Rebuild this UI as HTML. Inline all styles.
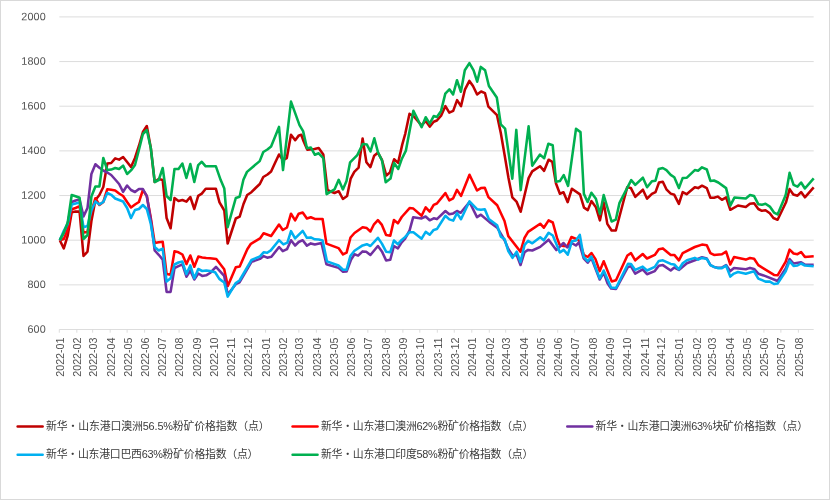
<!DOCTYPE html>
<html lang="zh"><head><meta charset="utf-8"><title>chart</title>
<style>
html,body{margin:0;padding:0;background:#fff;}
body{width:830px;height:500px;overflow:hidden;position:relative;font-family:"Liberation Sans",sans-serif;}
svg{position:absolute;left:0;top:0;display:block;}
.yl{font-family:"Liberation Sans",sans-serif;font-size:10.8px;fill:#525252;text-anchor:end;}
.xl{font-family:"Liberation Sans",sans-serif;font-size:10.8px;fill:#525252;text-anchor:end;}
.lg{font-family:"Liberation Sans","Noto Sans CJK SC",sans-serif;font-size:10.9px;fill:#3a3a3a;text-anchor:start;}
.ln{fill:none;stroke-width:2.55;stroke-linejoin:round;stroke-linecap:butt;}
</style></head><body>
<svg style="will-change:transform" width="830" height="500" viewBox="0 0 830 500">
<rect x="0" y="0" width="830" height="500" fill="#fff"/>
<rect x="0.5" y="0.5" width="829" height="499" fill="none" stroke="#D9D9D9" stroke-width="1"/>
<path d="M59.3 16.9H813.7M59.3 61.56H813.7M59.3 106.21H813.7M59.3 150.87H813.7M59.3 195.53H813.7M59.3 240.19H813.7M59.3 284.84H813.7M59.3 329.5H813.7" stroke="#D9D9D9" stroke-width="0.9" fill="none"/>
<path d="M59.3 329.5v3.2M76.82 329.5v3.2M92.64 329.5v3.2M110.16 329.5v3.2M127.11 329.5v3.2M144.62 329.5v3.2M161.58 329.5v3.2M179.09 329.5v3.2M196.61 329.5v3.2M213.56 329.5v3.2M231.08 329.5v3.2M248.03 329.5v3.2M265.55 329.5v3.2M283.06 329.5v3.2M298.89 329.5v3.2M316.4 329.5v3.2M333.35 329.5v3.2M350.87 329.5v3.2M367.82 329.5v3.2M385.34 329.5v3.2M402.86 329.5v3.2M419.81 329.5v3.2M437.33 329.5v3.2M454.28 329.5v3.2M471.79 329.5v3.2M489.31 329.5v3.2M505.7 329.5v3.2M523.22 329.5v3.2M540.17 329.5v3.2M557.68 329.5v3.2M574.64 329.5v3.2M592.15 329.5v3.2M609.67 329.5v3.2M626.62 329.5v3.2M644.14 329.5v3.2M661.09 329.5v3.2M678.61 329.5v3.2M696.12 329.5v3.2M711.95 329.5v3.2M729.46 329.5v3.2M746.41 329.5v3.2M763.93 329.5v3.2M780.88 329.5v3.2M798.4 329.5v3.2" stroke="#D9D9D9" stroke-width="0.9" fill="none"/>
<text class="yl" transform="translate(45.7,20.15) rotate(0.03)" textLength="24.4" lengthAdjust="spacing">2000</text>
<text class="yl" transform="translate(45.7,64.81) rotate(0.03)" textLength="24.4" lengthAdjust="spacing">1800</text>
<text class="yl" transform="translate(45.7,109.46) rotate(0.03)" textLength="24.4" lengthAdjust="spacing">1600</text>
<text class="yl" transform="translate(45.7,154.12) rotate(0.03)" textLength="24.4" lengthAdjust="spacing">1400</text>
<text class="yl" transform="translate(45.7,198.78) rotate(0.03)" textLength="24.4" lengthAdjust="spacing">1200</text>
<text class="yl" transform="translate(45.7,243.44) rotate(0.03)" textLength="24.4" lengthAdjust="spacing">1000</text>
<text class="yl" transform="translate(45.7,288.09) rotate(0.03)" textLength="18.3" lengthAdjust="spacing">800</text>
<text class="yl" transform="translate(45.7,332.75) rotate(0.03)" textLength="18.3" lengthAdjust="spacing">600</text>
<text class="xl" transform="translate(63.7,337.5) rotate(-90)" textLength="39.2" lengthAdjust="spacing">2022-01</text>
<text class="xl" transform="translate(81.22,337.5) rotate(-90)" textLength="39.2" lengthAdjust="spacing">2022-02</text>
<text class="xl" transform="translate(97.04,337.5) rotate(-90)" textLength="39.2" lengthAdjust="spacing">2022-03</text>
<text class="xl" transform="translate(114.56,337.5) rotate(-90)" textLength="39.2" lengthAdjust="spacing">2022-04</text>
<text class="xl" transform="translate(131.51,337.5) rotate(-90)" textLength="39.2" lengthAdjust="spacing">2022-05</text>
<text class="xl" transform="translate(149.02,337.5) rotate(-90)" textLength="39.2" lengthAdjust="spacing">2022-06</text>
<text class="xl" transform="translate(165.98,337.5) rotate(-90)" textLength="39.2" lengthAdjust="spacing">2022-07</text>
<text class="xl" transform="translate(183.49,337.5) rotate(-90)" textLength="39.2" lengthAdjust="spacing">2022-08</text>
<text class="xl" transform="translate(201.01,337.5) rotate(-90)" textLength="39.2" lengthAdjust="spacing">2022-09</text>
<text class="xl" transform="translate(217.96,337.5) rotate(-90)" textLength="39.2" lengthAdjust="spacing">2022-10</text>
<text class="xl" transform="translate(235.48,337.5) rotate(-90)" textLength="39.2" lengthAdjust="spacing">2022-11</text>
<text class="xl" transform="translate(252.43,337.5) rotate(-90)" textLength="39.2" lengthAdjust="spacing">2022-12</text>
<text class="xl" transform="translate(269.95,337.5) rotate(-90)" textLength="39.2" lengthAdjust="spacing">2023-01</text>
<text class="xl" transform="translate(287.46,337.5) rotate(-90)" textLength="39.2" lengthAdjust="spacing">2023-02</text>
<text class="xl" transform="translate(303.29,337.5) rotate(-90)" textLength="39.2" lengthAdjust="spacing">2023-03</text>
<text class="xl" transform="translate(320.8,337.5) rotate(-90)" textLength="39.2" lengthAdjust="spacing">2023-04</text>
<text class="xl" transform="translate(337.75,337.5) rotate(-90)" textLength="39.2" lengthAdjust="spacing">2023-05</text>
<text class="xl" transform="translate(355.27,337.5) rotate(-90)" textLength="39.2" lengthAdjust="spacing">2023-06</text>
<text class="xl" transform="translate(372.22,337.5) rotate(-90)" textLength="39.2" lengthAdjust="spacing">2023-07</text>
<text class="xl" transform="translate(389.74,337.5) rotate(-90)" textLength="39.2" lengthAdjust="spacing">2023-08</text>
<text class="xl" transform="translate(407.26,337.5) rotate(-90)" textLength="39.2" lengthAdjust="spacing">2023-09</text>
<text class="xl" transform="translate(424.21,337.5) rotate(-90)" textLength="39.2" lengthAdjust="spacing">2023-10</text>
<text class="xl" transform="translate(441.73,337.5) rotate(-90)" textLength="39.2" lengthAdjust="spacing">2023-11</text>
<text class="xl" transform="translate(458.68,337.5) rotate(-90)" textLength="39.2" lengthAdjust="spacing">2023-12</text>
<text class="xl" transform="translate(476.19,337.5) rotate(-90)" textLength="39.2" lengthAdjust="spacing">2024-01</text>
<text class="xl" transform="translate(493.71,337.5) rotate(-90)" textLength="39.2" lengthAdjust="spacing">2024-02</text>
<text class="xl" transform="translate(510.1,337.5) rotate(-90)" textLength="39.2" lengthAdjust="spacing">2024-03</text>
<text class="xl" transform="translate(527.62,337.5) rotate(-90)" textLength="39.2" lengthAdjust="spacing">2024-04</text>
<text class="xl" transform="translate(544.57,337.5) rotate(-90)" textLength="39.2" lengthAdjust="spacing">2024-05</text>
<text class="xl" transform="translate(562.08,337.5) rotate(-90)" textLength="39.2" lengthAdjust="spacing">2024-06</text>
<text class="xl" transform="translate(579.04,337.5) rotate(-90)" textLength="39.2" lengthAdjust="spacing">2024-07</text>
<text class="xl" transform="translate(596.55,337.5) rotate(-90)" textLength="39.2" lengthAdjust="spacing">2024-08</text>
<text class="xl" transform="translate(614.07,337.5) rotate(-90)" textLength="39.2" lengthAdjust="spacing">2024-09</text>
<text class="xl" transform="translate(631.02,337.5) rotate(-90)" textLength="39.2" lengthAdjust="spacing">2024-10</text>
<text class="xl" transform="translate(648.54,337.5) rotate(-90)" textLength="39.2" lengthAdjust="spacing">2024-11</text>
<text class="xl" transform="translate(665.49,337.5) rotate(-90)" textLength="39.2" lengthAdjust="spacing">2024-12</text>
<text class="xl" transform="translate(683.01,337.5) rotate(-90)" textLength="39.2" lengthAdjust="spacing">2025-01</text>
<text class="xl" transform="translate(700.52,337.5) rotate(-90)" textLength="39.2" lengthAdjust="spacing">2025-02</text>
<text class="xl" transform="translate(716.35,337.5) rotate(-90)" textLength="39.2" lengthAdjust="spacing">2025-03</text>
<text class="xl" transform="translate(733.86,337.5) rotate(-90)" textLength="39.2" lengthAdjust="spacing">2025-04</text>
<text class="xl" transform="translate(750.81,337.5) rotate(-90)" textLength="39.2" lengthAdjust="spacing">2025-05</text>
<text class="xl" transform="translate(768.33,337.5) rotate(-90)" textLength="39.2" lengthAdjust="spacing">2025-06</text>
<text class="xl" transform="translate(785.28,337.5) rotate(-90)" textLength="39.2" lengthAdjust="spacing">2025-07</text>
<text class="xl" transform="translate(802.8,337.5) rotate(-90)" textLength="39.2" lengthAdjust="spacing">2025-08</text>
<polyline class="ln" stroke="#C00000" points="59.8,240.2 63.8,248.4 67.7,235.6 71.7,212.2 75.6,211.6 79.6,211.6 83.5,256 87.5,251.6 91.4,221 95.4,200 99.4,195 103.3,187 107.3,163.6 111.2,163 115.2,158.4 119.1,159.6 123.1,157 127.1,162 131,167 135,158 138.9,146 142.9,132 146.8,126 150.8,148 154.7,182 158.7,179 162.7,180 166.6,218 170.6,228.3 174.5,198 178.5,201 182.4,200 186.4,201.6 190.3,197 194.3,209 198.2,195.8 201.8,193.6 205.7,188.8 215.9,188.8 219.5,202.4 224.3,210.5 227.65,243.5 235.8,218.5 239.7,216.7 243.5,204 247.2,195 251.4,192.2 255.6,188 259.8,184 263.3,177 267.5,174.5 271.1,171.5 275,163 279,154.5 283,160 286.8,158 291,134.8 295.2,140.2 298.9,135.4 301.3,134.8 303.5,141 307.3,149.7 314.5,149.1 318.7,148.1 323.3,154.5 327.5,190 331.4,191.8 334.5,193 338.7,191.2 342.9,199 347.1,196 350.7,178.6 354.3,171.9 358.6,167.7 362.6,138.5 366.4,162.3 370.4,167.1 374.2,155.7 377.8,152.7 382,160 386.3,175.5 389.9,172.5 394.1,159.3 398.1,162.9 402.3,144.4 405.3,133.6 409.5,113.8 413.4,116 421.6,125.5 425.7,121 429.7,126.6 433.7,121.7 436.9,120.5 441.1,115.7 445.4,106.1 449.3,112.7 453.2,110.9 457.1,100.1 461,106.1 464.9,89.7 469.4,80.9 473,86 477.1,94.5 481.1,91.5 485,93.2 488.4,106.7 497,115.2 500.8,133 504.6,155 508.5,178 512.3,197.3 516.5,201.6 520.7,211.8 524.6,195 528.6,178.1 532.2,171.4 540,166.2 544.1,170.8 548.6,159.7 552.3,161.8 556,183.5 559.9,193.7 563.5,192.3 567.7,202.2 571.9,188.7 580,194.4 584,207.7 587.8,210.1 591.4,201.1 595.9,207.2 599.9,220.4 603.7,202.4 607.3,223.9 611.6,230.5 615.8,230.5 619.4,216.7 623.3,202 627.2,187.3 630.8,187.9 635.3,196.9 642.9,189.7 647.1,198.7 651.9,193.9 655.5,192.1 659,182.5 662.8,181.7 666.4,189.3 670.7,193.6 674.3,194.8 678.9,203.8 682.7,192.1 686.6,194.2 694.8,187.3 698.1,188.1 702,185.7 706.8,188.1 710.4,197.8 714,197.8 717.7,196.6 721.9,199.8 726.1,197.4 730.3,209.8 738,205.5 745.8,206.9 749.9,203.8 754.1,203.3 758.3,209 761.9,210.8 765.5,210.2 769.8,213.2 773.4,218 777.6,219.8 786,202.3 789.6,189.1 793.3,194.5 797.5,195.7 801.1,192.1 804.9,197.3 813.7,187.3"/>
<polyline class="ln" stroke="#FF0000" points="59.8,240.2 63.8,239 67.7,229.6 71.7,209.2 75.6,208 79.6,206.2 83.5,232.5 87.5,232 91.4,211.6 95.4,198.2 99.4,205 103.3,202 107.3,189.2 111.2,189.8 115.2,190.5 119.1,193.5 123.1,196 127.1,202 131,207.5 135,204.5 138.9,202 142.9,190 146.8,196 150.8,218 154.7,243 158.7,242.3 162.7,241.7 166.6,274.1 170.6,274.7 174.5,251.3 178.5,252.3 182.4,254.5 186.4,264.1 190.3,255.5 194.3,266.8 198.3,256.6 202.2,257.4 206.2,258 210,258.3 216.3,259 224.2,269.3 227.8,286 235.8,267.3 239.7,266.4 247.3,249.2 250.9,243.8 260,238.4 263.6,233.3 271.1,236 279,224.5 282.8,230 287,227.5 291,213.7 295.1,220.3 298.7,213.7 302.7,212.5 306.9,218.5 310.8,217.3 314.8,218.9 322.6,219 326.4,243.6 338.5,248.1 343,254.4 346.6,252.6 350.5,237.5 354.5,233 362.6,227.3 366.8,228.1 370.4,231.5 374,224.3 377.9,220.1 381.9,224.9 386.1,235.1 390.3,235.7 393.9,220.1 397.9,223.3 401.7,217 409.6,208.1 413.4,208.6 421.6,215.8 425.7,207.3 429.7,211.6 433.7,204.9 436.9,203.5 445.4,193.1 449.3,200.4 453.2,198.3 457,189.9 461,195.9 469.5,174.8 477,190.5 480.9,188.1 484.8,187.8 488.4,197.1 497.2,205.3 504.5,221 508.3,236.1 520.5,251.7 524.5,237.9 528.1,231.9 540.2,223.7 543.8,227.7 548.6,220.4 552.8,222.5 557,237.9 559.6,244.8 563.4,246 567.4,246.2 571.4,237 575.7,238.7 579.5,241 583.8,254.9 587.7,257 591.4,253 595.5,259.1 599.7,271.1 603.7,261.3 611.7,281.4 616,280.2 627.4,255.5 631,253.1 635.2,260.3 642.7,254 647,258.5 654.8,254.9 658.8,249.2 662.9,248.4 670.7,254.9 674.3,254.9 678.9,260.3 682.7,253.1 694.8,247 702,244.6 706.8,245.2 710.4,253.1 714,254.9 721.9,254.3 726.1,251.6 730.3,264.5 734,257.1 745.8,259.6 750,258 754.1,258.7 758.3,265.1 774,274.9 777.6,275.3 785.7,261.7 789.6,249.6 793.6,253.5 797.5,254.2 801.1,252 804.9,256.9 813.7,256.3"/>
<polyline class="ln" stroke="#7030A0" points="59.8,240.2 63.8,233 67.7,224 71.7,202 75.6,200.5 79.6,199.6 83.5,216.4 87.5,208 91.4,174 95.4,164.2 99.4,167.8 103.3,170.5 107.3,172.5 111.2,175 115.2,179.5 119.1,184 123.1,191.8 127.1,185.5 131,190 135,192 138.9,189 142.9,189 146.8,196 150.8,220 154.7,250.5 158.7,254.8 162.7,259.6 166.6,291.9 170.6,291.9 174.5,268 178.5,266.2 182.4,264.4 186.4,276.7 190.3,270.5 194.3,279.5 198.3,273.5 202.2,275.9 206.2,275.3 210,273 216,266.9 224.2,275.9 227.7,294.5 235.8,284.2 239.5,282.3 251.5,261.9 260,258.9 263.6,256.1 267.2,257.7 271.4,256.8 279.1,247 282.8,251.2 287,249.2 291,240.2 295.1,245.6 298.7,242 302.7,240.2 306.9,245.6 310.8,243.4 314.8,244.4 321.5,243.1 326.4,264.3 338.5,267.9 343,271.7 346.6,271.5 351.1,259.5 354.5,254.3 358.1,255.6 362.6,251.4 366.2,251.7 370.4,255 377.9,246 381.9,251.4 386.1,260.4 390.3,259.8 393.9,246 397.9,248.4 401.7,242.3 405,238.9 409.6,230.3 413.2,217.2 421.6,218.4 425.6,216.5 429.7,220.3 433.7,218.3 436.9,219.1 445.4,211 449.3,214.3 453.2,213.4 457,211 460.7,212.8 469.5,202 477,217.1 480.9,214.7 489.3,221.9 497.2,227.6 501.4,234.7 504.7,240.5 508.3,249 512.5,255.5 516.7,255 520.5,265 524.5,252.3 528.1,249.9 532.3,250.5 540.2,246.9 548.6,239.7 556.3,250.1 563.5,243 567.4,247.4 571.7,243 575.9,245.5 579,242.3 583.7,258.3 587.7,262.7 591.4,258 599.7,279.5 603.7,272.5 607.5,283.2 611.1,288.5 616,289 628,266.9 631,266.3 635.2,273.6 642.7,269.3 647,274.2 654.8,271.1 658.8,265.7 662.9,265.1 670.7,270.5 674.3,267.5 678.9,269.9 686.9,263.3 694.8,260.3 702,257.3 706.8,258.5 710.4,265.2 714,266.9 717.7,267.8 721.9,267.6 726.1,265 730.3,271.1 734,268 745.8,269.3 750,267.9 754.1,268.9 758.3,273.7 765.5,276.1 777.6,281 785.7,268.5 789.6,259 793.6,263.5 801.1,262.3 804.9,264.7 813.7,264.7"/>
<polyline class="ln" stroke="#00B0F0" points="59.8,240.2 63.8,230.8 67.7,223.6 71.7,204.4 75.6,203.4 79.6,202.6 83.5,227.2 87.5,226 91.4,210.4 95.4,201.4 99.4,204.4 103.3,202 107.3,193 111.2,194.8 115.2,198.5 119.1,200 123.1,201.5 127.1,208 131,218 135,210 138.9,209 142.9,205 146.8,209 150.8,224 154.7,247 158.7,250.5 162.7,248.7 166.6,281.6 170.6,278.3 174.5,264.5 178.5,262.5 182.4,261.6 186.4,274.1 190.3,265.4 194.3,278.3 198.3,269 202.2,271 206.2,270.5 210,271 215.1,272.3 219.3,278.9 224.2,282.5 227.7,296.6 235.8,283 239.5,280.5 251.5,260 260,256.4 263.6,252.3 267.2,252.8 270.8,250.4 279,240.2 283.4,244.4 287.4,242.6 291,231.1 295.1,238.4 302.7,230.9 306.9,237.8 310.8,237.4 314.8,239.3 318.8,239.6 322.6,240.4 327,261.4 338.5,265.5 343,269.7 346.6,269.7 350.5,255.7 354.5,250.8 362.6,245.4 366.8,244.2 370.4,246 377.9,237.8 381.9,243.6 386.1,251.7 390.3,252.2 393.9,240.5 397.9,244.2 401.7,239.9 405,237.1 409.6,232.2 413.4,232.3 421.6,238.7 425.7,231.9 429.7,234.7 433.7,229.9 436.9,229.1 445.4,215.8 449.3,219.4 453.2,220.6 457,213.1 461,219.2 469.5,201.3 477,209.2 480.9,209.8 484.8,209.2 488.8,218.9 497.1,225.2 500.8,236.6 504.7,239.3 508.3,251.1 512.5,257.8 516.7,251.7 520.5,262 524.5,245.1 528.1,240.9 532.3,243.3 540.2,237.3 543.8,240.3 548.6,232.8 552.8,235.5 559.9,252.4 563.7,249.9 567.8,254.7 571.9,241.3 576,240.5 579.8,234.9 583.7,256.9 587.7,261.2 591.4,256.5 599.7,278.4 603.7,270.5 611.1,287.4 616,288 628,263.7 631,263.9 635.2,269.9 642.7,266.6 647,270.5 654.8,266.9 658.8,260.9 662.9,260.3 670.7,263.9 674.3,264.5 678.9,269.3 682.7,263.3 686.9,260.3 694.8,257.9 698.1,259.7 702,257.9 706.8,258.9 710.4,265.1 714,266.9 717.7,268.1 721.9,268.1 726.1,265.7 730.3,276.6 733.9,273.6 738,272 745.8,273.7 754,271.3 758.3,278.6 765.5,281.6 769.8,281.6 774,284 777.6,283.6 785.7,271.3 789.6,261.1 793.6,265.9 797.5,265.5 801.1,263.5 804.9,265.5 813.7,266.3"/>
<polyline class="ln" stroke="#00B050" points="59.8,240.2 63.8,232.6 67.7,222.4 71.7,195 75.6,196.2 79.6,197.8 83.5,239 87.5,235 91.4,196.5 95.4,186.5 99.4,186.5 103.3,158 107.3,170 111.2,169.6 115.2,168 119.1,169 123.1,165.6 127.1,174 131,170.4 135,165 138.9,150 142.9,134 146.8,130 150.8,148 154.7,182 158.7,180 162.7,168 166.6,196 170.6,200 174.5,169 178.5,169 182.4,163.6 186.4,178 190.3,164 194.3,181.9 198.2,165.1 201.8,161.8 205.7,166.3 215.9,166.3 220.7,180.1 224.3,188.6 227.65,227.2 235.8,198 239.6,196.8 243.4,179.8 247,171.9 259.7,161.1 263.3,152 267.4,149.5 271.1,146.4 279,126.9 283,170.1 291,101.6 299.5,125.1 303.1,131.1 307,148.2 310.9,147.6 314.9,154.8 318.7,153.3 323.3,158.1 326.6,194.2 334.5,189.4 338.7,179.8 342.9,189.4 346.5,181 350.1,162.3 357.3,155.1 362.7,144 366.9,144.6 370.5,151.5 374.3,138.3 378,152.4 382,160.5 385.7,182.2 390.5,178.6 394.1,162.9 398.3,168.9 401.9,158.7 405.9,150.6 413.4,110.8 421.6,127.2 425.7,117.3 429.7,123.6 433.7,116.1 436.9,116.9 441.1,110.9 445.3,93.6 449.4,89.3 453.1,94.5 457,80.2 460.9,91.8 464.8,70.3 469.4,63.1 473.6,70.3 477.2,81.7 480.8,66.9 485.1,70.3 488.9,86 496.8,97.5 500.8,124.4 505.1,128.7 512.3,178.7 516.3,129.9 520.7,190.1 528.6,126.3 532.2,165.7 540,154.6 544.2,158.2 548.4,143.7 552.7,145.2 556,181.7 559.9,181.1 563.7,175.1 568.1,185.9 576,128.8 580.5,132.1 583.9,193.9 587.6,202 591.4,192.7 595.9,198.7 599.9,214 603.7,195.1 611.6,221.5 615.8,219.7 619.4,203.2 631.2,180.1 635.3,184.9 642.9,177.7 647.1,187.3 651.9,181.3 655.5,180.7 658.7,169 662.8,168 666.4,170.1 670.7,174.9 674.3,177.3 678.9,188.1 682.7,177.9 686.9,177.7 694.8,170.1 698.1,170.7 702,167.3 706.8,169.5 710.4,180.9 714,180.5 718.3,182.5 726.1,188.1 730.3,205.6 734.4,197.6 745.8,198.5 750,195.1 754.1,196.1 758.3,204.2 761.9,204.8 765.5,203.8 769.8,206.6 774,212.6 777.6,214.4 785.7,195.1 789.6,172.8 793.6,184.9 797.5,186.7 801.1,182.5 804.9,188.5 813.7,178.3"/>
<path d="M17.65 426.6H42.65" stroke="#C00000" stroke-width="2.5" stroke-linecap="round" fill="none"/>
<text class="lg" x="46" y="430.3" textLength="223.7" lengthAdjust="spacing">新华<tspan font-family="'Noto Sans CJK SC',sans-serif">·</tspan>山东港口澳洲56.5%粉矿价格指数（点）</text>
<path d="M292.55 426.6H317.55" stroke="#FF0000" stroke-width="2.5" stroke-linecap="round" fill="none"/>
<text class="lg" x="320.9" y="430.3" textLength="212.5" lengthAdjust="spacing">新华<tspan font-family="'Noto Sans CJK SC',sans-serif">·</tspan>山东港口澳洲62%粉矿价格指数（点）</text>
<path d="M567.25 426.6H592.25" stroke="#7030A0" stroke-width="2.5" stroke-linecap="round" fill="none"/>
<text class="lg" x="595.6" y="430.3" textLength="212.5" lengthAdjust="spacing">新华<tspan font-family="'Noto Sans CJK SC',sans-serif">·</tspan>山东港口澳洲63%块矿价格指数（点）</text>
<path d="M17.65 454.7H42.65" stroke="#00B0F0" stroke-width="2.5" stroke-linecap="round" fill="none"/>
<text class="lg" x="46" y="458.4" textLength="212.5" lengthAdjust="spacing">新华<tspan font-family="'Noto Sans CJK SC',sans-serif">·</tspan>山东港口巴西63%粉矿价格指数（点）</text>
<path d="M292.55 454.7H317.55" stroke="#00B050" stroke-width="2.5" stroke-linecap="round" fill="none"/>
<text class="lg" x="320.9" y="458.4" textLength="212.5" lengthAdjust="spacing">新华<tspan font-family="'Noto Sans CJK SC',sans-serif">·</tspan>山东港口印度58%粉矿价格指数（点）</text>
</svg>
</body></html>
